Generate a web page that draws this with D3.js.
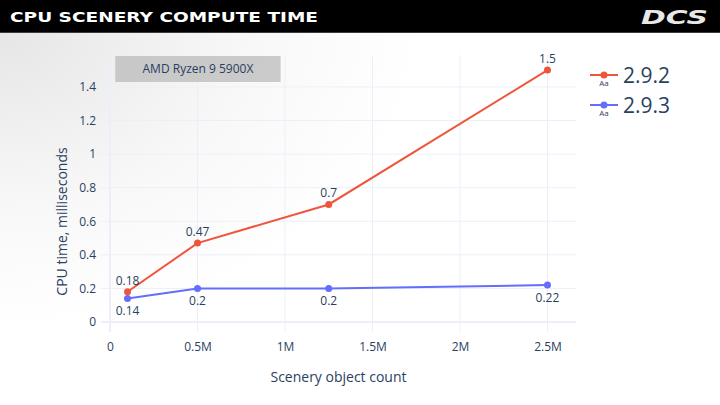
<!DOCTYPE html>
<html>
<head>
<meta charset="utf-8">
<script src="https://cdn.jsdelivr.net/npm/d3@7"></script>
<style>
  html, body { margin: 0; padding: 0; background: #fff; }
  svg { display: block; font-family: 'Open Sans', sans-serif; }
</style>
</head>
<body>
<svg id="chart" width="720" height="405"></svg>
<script>
// data
const sceneryCounts = [100000, 500000, 1250000, 2500000]
const series = [
  { name: '2.9.2', color: '#EF553B', values: [0.18, 0.47, 0.7, 1.5], labelPos: 'top' },
  { name: '2.9.3', color: '#636EFA', values: [0.14, 0.2, 0.2, 0.22], labelPos: 'bottom' },
]
const xTicks = [0, 500000, 1000000, 1500000, 2000000, 2500000]
const yTicks = [0, 0.2, 0.4, 0.6, 0.8, 1, 1.2, 1.4]
const cpuName = 'AMD Ryzen 9 5900X'

const W = 720, H = 405
const plot = { left: 101, right: 576, top: 55, bottom: 332 }
const textColor = '#2a3f5f'
const gridColor = '#EBF0F8'

const svg = d3.select('#chart')

// background, light grey at the top-left fading to white
const defs = svg.append('defs')
defs.append('radialGradient')
  .attr('id', 'bg')
  .attr('gradientUnits', 'userSpaceOnUse')
  .attr('cx', 0).attr('cy', 33).attr('r', 420)
  .attr('gradientTransform', 'translate(0,33) scale(1,0.7) translate(0,-33)')
  .call(g => g.append('stop').attr('offset', '0').attr('stop-color', '#e6e6e6'))
  .call(g => g.append('stop').attr('offset', '0.6').attr('stop-color', '#f8f8f8'))
  .call(g => g.append('stop').attr('offset', '1').attr('stop-color', '#ffffff'))

svg.append('rect').attr('width', W).attr('height', H).attr('fill', '#fff')
svg.append('rect').attr('width', W).attr('height', H).attr('fill', 'url(#bg)')

// header band
svg.append('rect').attr('width', W).attr('height', 33).attr('fill', '#000')
svg.append('line')
  .attr('x1', 0).attr('x2', W).attr('y1', 32.5).attr('y2', 32.5)
  .attr('stroke', '#3c3c3c').attr('stroke-width', 1)

svg.append('text')
  .attr('x', 10).attr('y', 22)
  .attr('textLength', 308)
  .attr('lengthAdjust', 'spacingAndGlyphs')
  .attr('fill', '#fff')
  .style('font-family', "'DejaVu Sans', sans-serif")
  .style('font-weight', 'bold')
  .style('font-size', '14px')
  .text('CPU SCENERY COMPUTE TIME')

svg.append('text')
  .attr('x', 708).attr('y', 24)
  .attr('text-anchor', 'end')
  .attr('textLength', 67)
  .attr('lengthAdjust', 'spacingAndGlyphs')
  .attr('fill', '#e8e8e8')
  .style('font-family', "'DejaVu Sans', sans-serif")
  .style('font-weight', 'bold')
  .style('font-style', 'italic')
  .style('font-size', '19px')
  .text('DCS')

// scales
const x = d3.scaleLinear().domain([-51500, 2663000]).range([plot.left, plot.right])
const y = d3.scaleLinear().domain([-0.0595, 1.59]).range([plot.bottom, plot.top])

const fmtX = d => d === 0 ? '0' : d3.format('~')(d / 1e6) + 'M'
const fmtY = d => d3.format('~')(+d.toFixed(2))

// grid
const grid = svg.append('g').attr('class', 'grid')
grid.selectAll('line.gx')
  .data(xTicks)
  .join('line')
    .attr('class', 'gx')
    .attr('x1', d => x(d)).attr('x2', d => x(d))
    .attr('y1', plot.top).attr('y2', plot.bottom)
    .attr('stroke', gridColor)
    .attr('stroke-width', d => d === 0 ? 2 : 1)
grid.selectAll('line.gy')
  .data(yTicks)
  .join('line')
    .attr('class', 'gy')
    .attr('x1', plot.left).attr('x2', plot.right)
    .attr('y1', d => y(d)).attr('y2', d => y(d))
    .attr('stroke', gridColor)
    .attr('stroke-width', d => d === 0 ? 2 : 1)

// axes (labels only, plotly style)
const xAxis = svg.append('g')
  .attr('transform', `translate(0,${plot.bottom + 2})`)
  .call(d3.axisBottom(x).tickValues(xTicks).tickFormat(fmtX).tickSize(0).tickPadding(8))
const yAxis = svg.append('g')
  .attr('transform', `translate(${plot.left - 1},0)`)
  .call(d3.axisLeft(y).tickValues(yTicks).tickFormat(fmtY).tickSize(0).tickPadding(4))

;[xAxis, yAxis].forEach(a => {
  a.select('.domain').remove()
  a.selectAll('text')
    .attr('fill', textColor)
    .style('font-family', "'Open Sans', sans-serif")
    .style('font-size', '12px')
})

// axis titles
svg.append('text')
  .attr('x', (plot.left + plot.right) / 2).attr('y', 382)
  .attr('text-anchor', 'middle')
  .attr('fill', textColor)
  .style('font-size', '14px')
  .text('Scenery object count')

svg.append('text')
  .attr('transform', `translate(67,${(plot.top + plot.bottom) / 2 + 28}) rotate(-90)`)
  .attr('text-anchor', 'middle')
  .attr('fill', textColor)
  .style('font-size', '14px')
  .text('CPU time, milliseconds')

// annotation box
const note = svg.append('g')
note.append('rect')
  .attr('x', x(30000)).attr('y', 56)
  .attr('width', x(975000) - x(30000)).attr('height', 26)
  .attr('fill', 'rgba(185,185,185,0.72)')
note.append('text')
  .attr('x', (x(30000) + x(975000)) / 2).attr('y', 73)
  .attr('text-anchor', 'middle')
  .attr('fill', textColor)
  .style('font-size', '12px')
  .text(cpuName)

// series
const line = d3.line().x(d => x(d.x)).y(d => y(d.y))
const layer = svg.append('g').attr('class', 'series')

series.forEach(s => {
  const pts = sceneryCounts.map((c, i) => ({ x: c, y: s.values[i] }))
  const g = layer.append('g')
  g.append('path')
    .datum(pts)
    .attr('d', line)
    .attr('fill', 'none')
    .attr('stroke', s.color)
    .attr('stroke-width', 2)
  g.selectAll('circle')
    .data(pts)
    .join('circle')
      .attr('cx', d => x(d.x)).attr('cy', d => y(d.y))
      .attr('r', 3.5)
      .attr('fill', s.color)
  g.selectAll('text')
    .data(pts)
    .join('text')
      .attr('x', d => x(d.x))
      .attr('y', d => y(d.y) + (s.labelPos === 'top' ? -7 : 17))
      .attr('text-anchor', 'middle')
      .attr('fill', textColor)
      .style('font-size', '12px')
      .text(d => fmtY(d.y))
})

// legend
const legend = svg.append('g').attr('transform', 'translate(590,75)')
legend.selectAll('g')
  .data(series)
  .join('g')
    .attr('transform', (d, i) => `translate(0,${i * 30})`)
    .call(g => g.append('line')
      .attr('x1', 0).attr('x2', 28).attr('y1', 0).attr('y2', 0)
      .attr('stroke', d => d.color).attr('stroke-width', 2))
    .call(g => g.append('circle')
      .attr('cx', 14).attr('cy', 0).attr('r', 3.5).attr('fill', d => d.color))
    .call(g => g.append('text')
      .attr('x', 14).attr('y', 11)
      .attr('text-anchor', 'middle')
      .attr('fill', textColor)
      .style('font-size', '8px')
      .text('Aa'))
    .call(g => g.append('text')
      .attr('x', 33).attr('y', 8)
      .attr('fill', textColor)
      .style('font-size', '21px')
      .text(d => d.name))
</script>
</body>
</html>
